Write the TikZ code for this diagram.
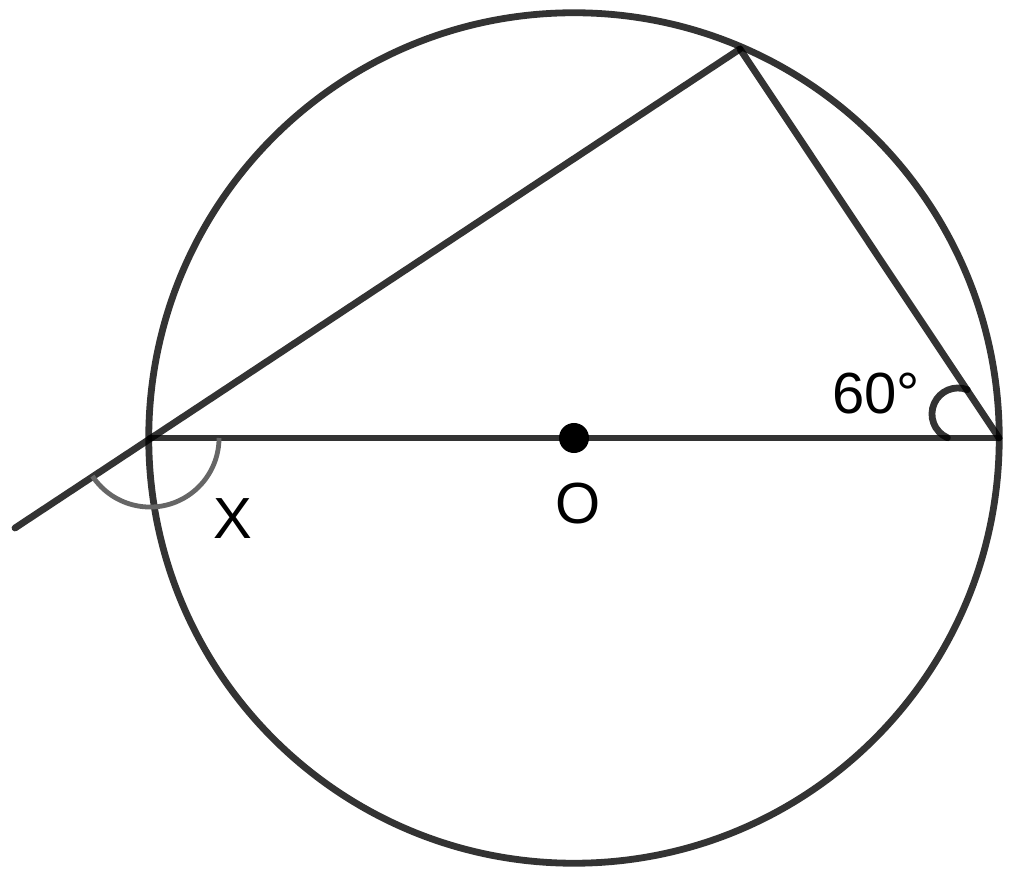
\documentclass[tikz,border=0pt]{standalone}
\usepackage{fontspec}
\setmainfont{Liberation Sans}
\begin{document}
\begin{tikzpicture}[x=0.01cm,y=-0.01cm,
  geo/.style={draw=black,draw opacity=0.8,line width=0.068cm,line cap=round},
  xarc/.style={draw=black!60,line width=0.048cm},
  lbl/.style={font=\fontsize{16.5}{18}\selectfont,inner sep=0pt}]
\useasboundingbox (0,0) rectangle (1014,879);
\coordinate (O) at (574,438);
\coordinate (A) at (150,438);
\coordinate (B) at (999,438);
\coordinate (C) at (740,49);
\coordinate (E) at (15,528);
\draw[geo] (O) circle[radius=4.25cm];
\draw[geo] (A) -- (B);
\draw[geo] (B) -- (C);
\draw[geo] (C) -- (E);
\draw[xarc] (A) ++(213.5:0.69cm) arc[start angle=213.5,end angle=360,radius=0.69cm];
\draw[geo] (958,414) ++(246:0.26cm) arc[start angle=246,end angle=69,radius=0.26cm];
\fill[black] (O) circle[radius=0.15cm];
\node[lbl] (xl) at (233,519) {X};
\node[lbl] (ol) at (578,504) {O};
\node[lbl] (al) at (876,394) {60°};
\end{tikzpicture}
\end{document}
